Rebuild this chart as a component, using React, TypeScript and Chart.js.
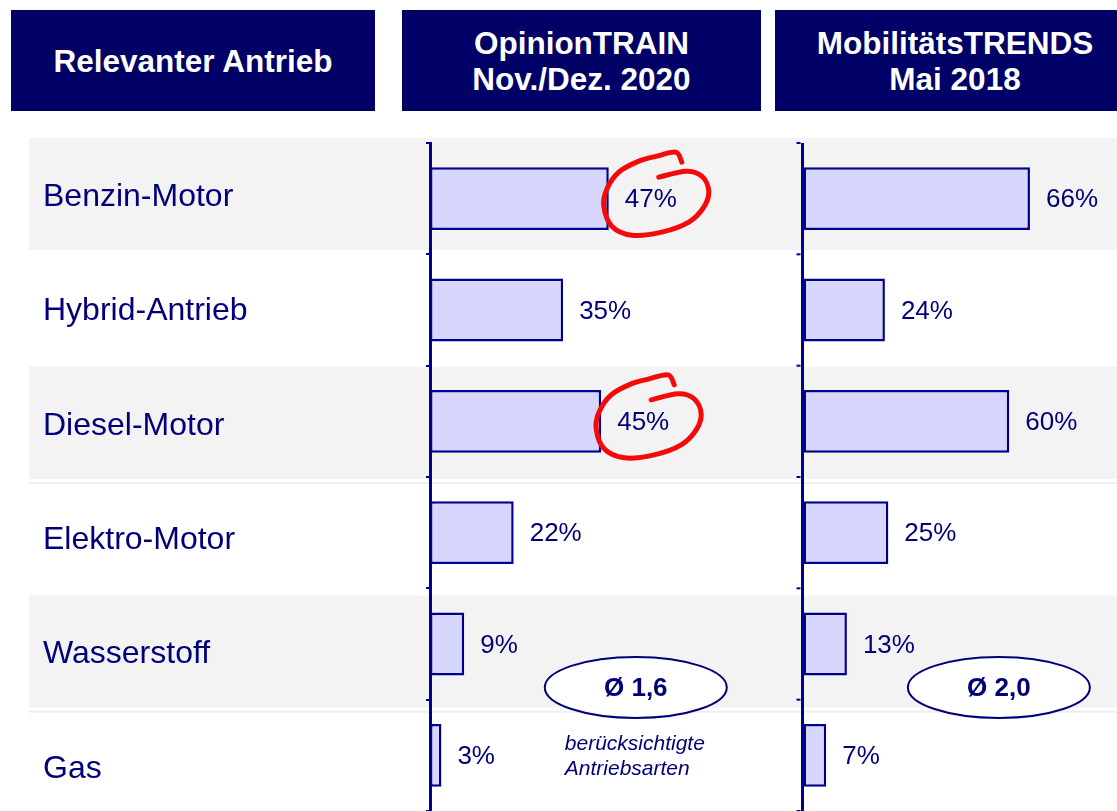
import React, { useEffect, useRef } from "react";
import { Chart, registerables } from "chart.js";

Chart.register(...registerables);

// ---- data ----
const CATEGORIES = ["Benzin-Motor", "Hybrid-Antrieb", "Diesel-Motor", "Elektro-Motor", "Wasserstoff", "Gas"];
const OPINION_2020 = [47, 35, 45, 22, 9, 3];
const MOBILITY_2018 = [66, 24, 60, 25, 13, 7];
const HIGHLIGHT_2020 = [true, false, true, false, false, false];
const HEADER_LINES = [["Relevanter Antrieb"], ["OpinionTRAIN", "Nov./Dez. 2020"], ["MobilitätsTRENDS", "Mai 2018"]];
const AVERAGES = ["Ø 1,6", "Ø 2,0"];
const AVERAGE_POS_X = [54.1, 57]; // in each panel's value units
const AVERAGE_POS_Y = 4.39; // in category index units
const AVERAGE_NOTE = ["berücksichtigte", "Antriebsarten"];

// ---- style ----
const FONT = '"Liberation Sans", Arial, Helvetica, sans-serif';
const HEADER_BG = "#000066";
const NAVY = "#000078";
const AXIS = "#00008f";
const BAR_FILL = "#d7d7fd";
const BAR_BORDER = "#00008f";
const BAND = "#f3f3f3";
const RED = "#f50a0a";
const LABEL_MIN = -0.4545;
const LABEL_MAX = 5.385;

const HEADER_BOXES = [
  { left: 11, width: 364 },
  { left: 402, width: 359 },
  { left: 775, width: 360 },
];

// hand-drawn loop, relative to value label centre
const LOOP = [
  [8, -21.5], [35, -27.5], [51, -22.5], [58, -7.5], [53, 8.5], [38, 23.5], [11, 33.5],
  [-19, 36.5], [-39, 27.5], [-47, 7.5], [-44, -9.5], [-32, -26.5], [-12, -37.5], [6, -42.5],
  [25, -46.5], [31, -36.5],
];

function drawSmooth(ctx: CanvasRenderingContext2D, pts: number[][]) {
  ctx.beginPath();
  ctx.moveTo(pts[0][0], pts[0][1]);
  for (let i = 0; i < pts.length - 1; i++) {
    const p0 = pts[Math.max(0, i - 1)];
    const p1 = pts[i];
    const p2 = pts[i + 1];
    const p3 = pts[Math.min(pts.length - 1, i + 2)];
    const c1x = p1[0] + (p2[0] - p0[0]) / 6;
    const c1y = p1[1] + (p2[1] - p0[1]) / 6;
    const c2x = p2[0] - (p3[0] - p1[0]) / 6;
    const c2y = p2[1] - (p3[1] - p1[1]) / 6;
    ctx.bezierCurveTo(c1x, c1y, c2x, c2y, p2[0], p2[1]);
  }
  ctx.stroke();
}

const decorPlugin = {
  id: "decor",
  beforeDraw(chart: any) {
    const ctx = chart.ctx as CanvasRenderingContext2D;
    const ls = chart.scales.labels;
    ctx.save();
    CATEGORIES.forEach((_, i) => {
      if (i % 2 !== 0) return;
      const top = ls.getPixelForValue(i - 0.5);
      const bottom = ls.getPixelForValue(i + 0.5) - 2;
      ctx.fillStyle = BAND;
      ctx.fillRect(29, top, chart.width - 29, bottom - top);
      if (i > 0) {
        ctx.fillStyle = "#eeeeee";
        ctx.fillRect(29, bottom + 3, chart.width - 29, 2);
      }
    });
    ctx.restore();
  },
  afterDatasetsDraw(chart: any) {
    const ctx = chart.ctx as CanvasRenderingContext2D;
    const y = chart.scales.y;
    const x1 = chart.scales.x1;
    const x2 = chart.scales.x2;
    ctx.save();

    // tick marks on second panel axis
    const half = (y.getPixelForValue(1) - y.getPixelForValue(0)) / 2;
    const ax2 = x2.getPixelForValue(0);
    ctx.strokeStyle = AXIS;
    ctx.lineWidth = 2;
    for (let i = 0; i <= CATEGORIES.length; i++) {
      const py = y.getPixelForValue(i) - half;
      ctx.beginPath();
      ctx.moveTo(ax2 - 1.5, py);
      ctx.lineTo(ax2 - 5.5, py);
      ctx.stroke();
    }

    // value labels
    ctx.font = `26px ${FONT}`;
    ctx.fillStyle = NAVY;
    ctx.textAlign = "left";
    ctx.textBaseline = "middle";
    [0, 1].forEach((d) => {
      const meta = chart.getDatasetMeta(d);
      const values = chart.data.datasets[d].data as number[];
      meta.data.forEach((bar: any, i: number) => {
        const txt = `${values[i]}%`;
        const tx = bar.x + 16;
        ctx.fillStyle = NAVY;
        ctx.fillText(txt, tx, bar.y + 1.5);
        if (d === 0 && HIGHLIGHT_2020[i]) {
          const w = ctx.measureText(txt).width;
          const cx = tx + w / 2;
          const cy = bar.y;
          ctx.save();
          ctx.strokeStyle = RED;
          ctx.lineWidth = 5;
          ctx.lineCap = "round";
          ctx.lineJoin = "round";
          drawSmooth(ctx, LOOP.map(([px, py]) => [cx + px, cy + py]));
          ctx.restore();
        }
      });
    });

    // average ellipses
    [x1, x2].forEach((xs: any, k: number) => {
      const cx = xs.getPixelForValue(AVERAGE_POS_X[k]);
      const cy = y.getPixelForValue(AVERAGE_POS_Y);
      ctx.beginPath();
      ctx.ellipse(cx, cy, 91, 30.5, 0, 0, Math.PI * 2);
      ctx.fillStyle = "#ffffff";
      ctx.fill();
      ctx.strokeStyle = NAVY;
      ctx.lineWidth = 2;
      ctx.stroke();
      ctx.fillStyle = NAVY;
      ctx.font = `bold 26px ${FONT}`;
      ctx.textAlign = "center";
      ctx.textBaseline = "middle";
      ctx.fillText(AVERAGES[k], cx, cy + 1);
      if (k === 0) {
        ctx.font = `italic 21px ${FONT}`;
        ctx.textAlign = "left";
        ctx.textBaseline = "alphabetic";
        ctx.fillText(AVERAGE_NOTE[0], cx - 71, cy + 63);
        ctx.fillText(AVERAGE_NOTE[1], cx - 71, cy + 88);
      }
    });
    ctx.restore();
  },
};

export default function App() {
  const canvasRef = useRef<HTMLCanvasElement | null>(null);

  useEffect(() => {
    if (!canvasRef.current) return;
    const chart = new Chart(canvasRef.current, {
      type: "bar",
      data: {
        labels: CATEGORIES,
        datasets: [
          {
            label: "OpinionTRAIN Nov./Dez. 2020",
            data: OPINION_2020,
            xAxisID: "x1",
            yAxisID: "y",
            backgroundColor: BAR_FILL,
            borderColor: BAR_BORDER,
            borderWidth: 2.5,
            borderSkipped: false,
            grouped: false,
            barPercentage: 0.565,
            categoryPercentage: 1,
          },
          {
            label: "MobilitätsTRENDS Mai 2018",
            data: MOBILITY_2018,
            xAxisID: "x2",
            yAxisID: "y",
            backgroundColor: BAR_FILL,
            borderColor: BAR_BORDER,
            borderWidth: 2.5,
            borderSkipped: false,
            grouped: false,
            barPercentage: 0.565,
            categoryPercentage: 1,
          },
        ],
      },
      options: {
        indexAxis: "y",
        responsive: false,
        animation: false,
        devicePixelRatio: 1,
        layout: { padding: { left: 43, top: 143, right: 0, bottom: 0 } },
        plugins: { legend: { display: false }, tooltip: { enabled: false } },
        scales: {
          labels: {
            type: "linear",
            position: "left",
            weight: 2,
            reverse: true,
            offset: false,
            bounds: "data",
            min: LABEL_MIN,
            max: LABEL_MAX,
            afterBuildTicks: (s: any) => {
              s.ticks = CATEGORIES.map((_, i) => ({ value: i }));
            },
            afterFit: (s: any) => {
              s.width = 387;
              s.paddingTop = 0;
              s.paddingBottom = 0;
            },
            ticks: {
              callback: (v: any) => CATEGORIES[Number(v)] ?? "",
              crossAlign: "far",
              autoSkip: false,
              padding: 0,
              labelOffset: 2,
              color: NAVY,
              font: { family: FONT, size: 32 },
            },
            grid: { display: false, offset: false },
            border: { display: false },
          },
          y: {
            type: "category",
            position: "left",
            weight: 1,
            offset: true,
            afterFit: (s: any) => {
              s.width = 0;
              s.paddingTop = 0;
              s.paddingBottom = 0;
            },
            ticks: { display: false },
            grid: { offset: true, drawOnChartArea: false, drawTicks: true, tickLength: 4, color: AXIS, lineWidth: 2 },
            border: { display: true, color: AXIS, width: 3 },
          },
          x1: {
            type: "linear",
            position: "bottom",
            stack: "panels",
            stackWeight: 372,
            min: 0,
            max: 97.8,
            afterFit: (s: any) => {
              s.height = 0;
              s.paddingLeft = 0;
              s.paddingRight = 0;
            },
            ticks: { display: false },
            grid: { display: false },
            border: { display: false },
          },
          x2: {
            type: "linear",
            position: "bottom",
            stack: "panels",
            stackWeight: 315,
            min: 0,
            max: 91.2,
            afterBuildTicks: (s: any) => {
              s.ticks = [{ value: 0 }];
            },
            afterFit: (s: any) => {
              s.height = 0;
              s.paddingLeft = 0;
              s.paddingRight = 0;
            },
            ticks: { display: false },
            grid: { drawTicks: false, color: AXIS, lineWidth: 3 },
            border: { display: false },
          },
        },
      } as any,
      plugins: [decorPlugin],
    });
    return () => chart.destroy();
  }, []);

  return (
    <div
      style={{
        position: "fixed",
        left: 0,
        top: 0,
        width: 1117,
        height: 811,
        overflow: "hidden",
        background: "#ffffff",
      }}
    >
      <canvas ref={canvasRef} width={1117} height={811} style={{ position: "absolute", left: 0, top: 0 }} />
      {HEADER_BOXES.map((b, i) => (
        <div
          key={i}
          style={{
            position: "absolute",
            left: b.left,
            top: 10,
            width: b.width,
            height: 101,
            background: HEADER_BG,
            color: "#ffffff",
            fontFamily: FONT,
            fontWeight: "bold",
            fontSize: 31.5,
            lineHeight: "36px",
            display: "flex",
            flexDirection: "column",
            alignItems: "center",
            justifyContent: "center",
            textAlign: "center",
          }}
        >
          {HEADER_LINES[i].map((l, j) => (
            <div key={j}>{l}</div>
          ))}
        </div>
      ))}
    </div>
  );
}
